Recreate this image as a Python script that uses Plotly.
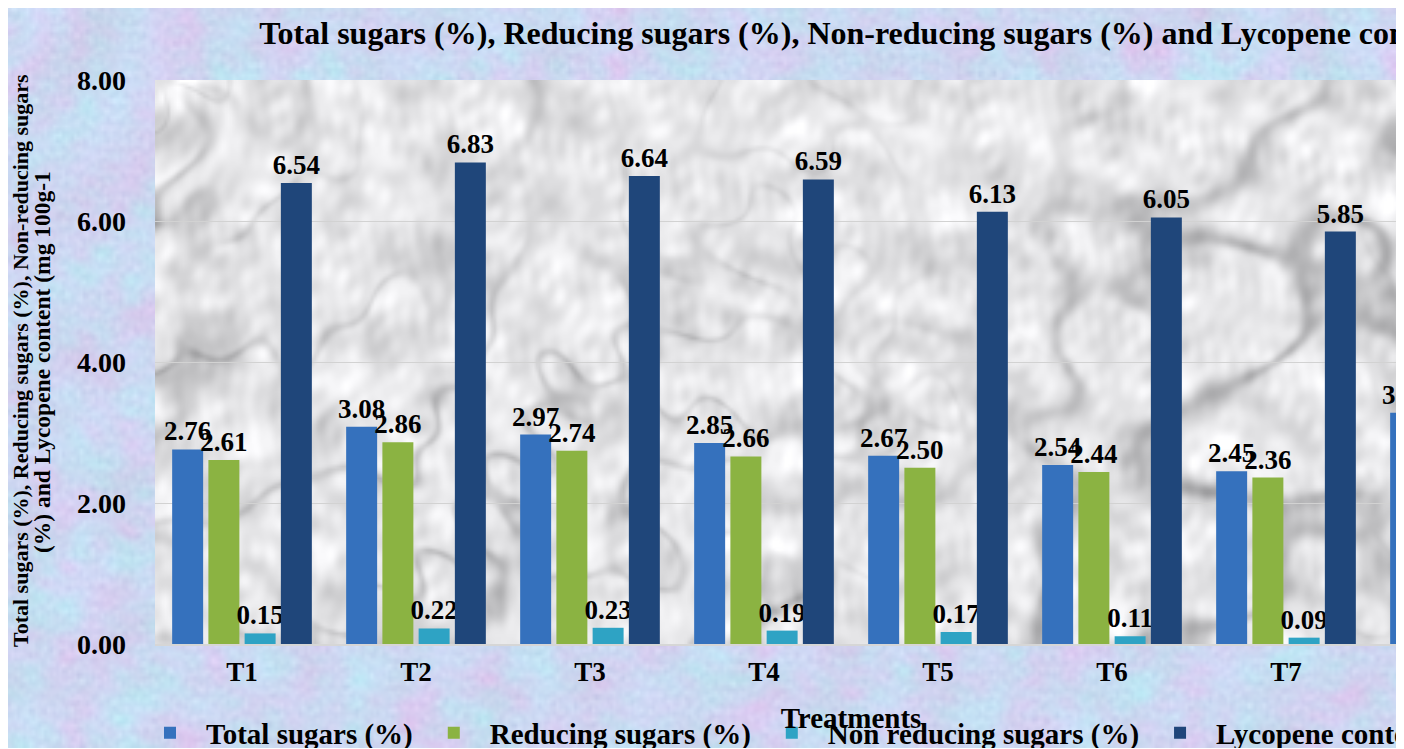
import base64
import struct
import zlib

import numpy as np
import plotly.graph_objects as go

# ---- data ----
treatments = ["T1", "T2", "T3", "T4", "T5", "T6", "T7", "T8"]
total_sugars = [2.76, 3.08, 2.97, 2.85, 2.67, 2.54, 2.45, 3.28]
reducing_sugars = [2.61, 2.86, 2.74, 2.66, 2.50, 2.44, 2.36, 3.02]   # T8 estimated (off-canvas)
non_reducing_sugars = [0.15, 0.22, 0.23, 0.19, 0.17, 0.11, 0.09, 0.26]  # T8 estimated (off-canvas)
lycopene = [6.54, 6.83, 6.64, 6.59, 6.13, 6.05, 5.85, 7.05]          # T8 estimated (off-canvas)

series_names = ["Total sugars (%)", "Reducing sugars (%)",
                "Non reducing sugars (%)", "Lycopene content (mg 100g-1)"]
series_values = [total_sugars, reducing_sugars, non_reducing_sugars, lycopene]
series_colors = ["#3571bd", "#8bb342", "#2ea3c4", "#1f467a"]

y_ticks = [0, 2, 4, 6, 8]

FONT = "Liberation Serif, Times New Roman, serif"

W, H = 1599, 740
L, T, B = 147, 72, 104
PW = 174 * len(treatments)
PH = H - T - B
R = W - L - PW


# ---- decorative background textures (style only, deterministic) ----
def png_uri(rgb):
    h, w, _ = rgb.shape
    raw = b"".join(b"\x00" + rgb[i].tobytes() for i in range(h))

    def chunk(tag, data):
        c = struct.pack(">I", len(data)) + tag + data
        return c + struct.pack(">I", zlib.crc32(tag + data) & 0xFFFFFFFF)

    png = (b"\x89PNG\r\n\x1a\n"
           + chunk(b"IHDR", struct.pack(">IIBBBBB", w, h, 8, 2, 0, 0, 0))
           + chunk(b"IDAT", zlib.compress(raw, 9))
           + chunk(b"IEND", b""))
    return "data:image/png;base64," + base64.b64encode(png).decode()


def waves(X, Y, n, fmin, fmax, off):
    out = np.zeros_like(X)
    for k in range(n):
        t = (k + off) * 2.399963
        f = fmin * (fmax / fmin) ** (((k + 1) * 0.618034 + off * 0.137) % 1.0)
        ph = (k * 1.31 + off) * 3.7
        out += np.sin(f * (X * np.cos(t) + Y * np.sin(t)) + ph) / np.sqrt(f)
    out -= out.mean()
    return out / out.std()


# paper: soft pastel mottled texture
ps = 3
py_, px_ = np.mgrid[0:H // ps + 1, 0:W // ps + 1].astype(float) * ps
a = waves(px_, py_, 36, 0.04, 0.35, 1)
b = waves(px_, py_, 36, 0.04, 0.35, 7)
g = waves(px_, py_, 30, 0.4, 1.0, 13)
paper_rgb = np.stack([
    205 + 5 * a - 2 * b + 3 * g,
    216 - 3 * a + 4 * b + 3 * g,
    242 + 1 * a + 2 * b + 2 * g,
], axis=-1)
paper_img = png_uri(np.clip(paper_rgb, 0, 255).astype(np.uint8))

# plot area: soft grey marble texture
ms = 3
my_, mx_ = np.mgrid[0:PH // ms + 1, 0:PW // ms + 1].astype(float) * ms
n1 = waves(mx_, my_, 40, 0.012, 0.08, 3)
n2 = waves(mx_, my_, 40, 0.02, 0.12, 9)
mod1 = waves(mx_, my_, 20, 0.004, 0.02, 5)
mod2 = waves(mx_, my_, 20, 0.004, 0.02, 21)
cloud = waves(mx_, my_, 40, 0.05, 0.45, 17)
vein1 = np.exp(-(n1 / 0.32) ** 2) * np.clip(0.55 + 0.35 * mod1, 0, 1)
vein2 = np.exp(-(n2 / 0.26) ** 2) * np.clip(0.40 + 0.30 * mod2, 0, 1)
grey = 242 - 50 * vein1 - 36 * vein2 - 9 * cloud
grey += 224 - grey.mean()
marble_rgb = np.stack([grey, grey, grey + 2], axis=-1)
marble_img = png_uri(np.clip(marble_rgb, 0, 255).astype(np.uint8))

fig = go.Figure()
for name, vals, col in zip(series_names, series_values, series_colors):
    fig.add_trace(go.Bar(
        x=treatments, y=vals, name=name,
        marker=dict(color=col, line=dict(width=0)),
        texttemplate="%{y:.2f}", textposition="outside",
        textfont=dict(family=FONT, size=27, color="black", weight="bold"),
        constraintext="none", cliponaxis=False,
    ))

fig.update_layout(
    width=W, height=H,
    margin=dict(l=L, r=R, t=T, b=B, autoexpand=False),
    paper_bgcolor="#cdd8f2",
    plot_bgcolor="rgba(0,0,0,0)",
    images=[
        dict(source=paper_img, xref="paper", yref="paper",
             x=-L / PW, y=1 + T / PH, sizex=W / PW, sizey=H / PH,
             xanchor="left", yanchor="top", sizing="stretch", layer="below"),
        dict(source=marble_img, xref="paper", yref="paper",
             x=0, y=1, sizex=1, sizey=1,
             xanchor="left", yanchor="top", sizing="stretch", layer="below"),
    ],
    barmode="group", bargap=0.167, bargroupgap=0.145,
    font=dict(family=FONT, color="black", weight="bold"),
    title=dict(
        text="Total sugars (%), Reducing sugars (%), Non-reducing sugars (%) and Lycopene content (mg 100g-1)",
        font=dict(family=FONT, size=32, color="black", weight="bold"),
        x=937 / W, xref="container", xanchor="center",
        y=1 - 25 / H, yref="container", yanchor="middle",
    ),
    legend=dict(
        orientation="h", x=(126 - L) / PW, xanchor="left",
        y=-(725 - (T + PH)) / PH, yanchor="middle",
        font=dict(family=FONT, size=29, color="black", weight="bold"),
        bgcolor="rgba(0,0,0,0)", itemwidth=62,
    ),
    xaxis=dict(
        title=dict(text="Treatments", font=dict(family=FONT, size=29, weight="bold"), standoff=21),
        tickfont=dict(family=FONT, size=27, weight="bold"),
        showline=True, linecolor="#d6d6d6", linewidth=2,
        showgrid=False, ticklabelstandoff=3,
    ),
    yaxis=dict(
        range=[0, 8], tickvals=y_ticks, tickformat=".2f",
        tickfont=dict(family=FONT, size=28, weight="bold"),
        showgrid=True, gridcolor="#d2d2d2", gridwidth=1,
        zeroline=False, showline=False, ticklabelstandoff=28,
    ),
    annotations=[
        dict(
            text="Total sugars (%), Reducing sugars (%), Non-reducing sugars",
            xref="paper", yref="paper", x=(12 - L) / PW, y=(T + PH - 353) / PH,
            xanchor="center", yanchor="middle", textangle=-90, showarrow=False,
            font=dict(family=FONT, size=22, color="black", weight="bold"),
        ),
        dict(
            text="(%) and Lycopene content (mg 100g-1",
            xref="paper", yref="paper", x=(34 - L) / PW, y=(T + PH - 354) / PH,
            xanchor="center", yanchor="middle", textangle=-90, showarrow=False,
            font=dict(family=FONT, size=23.5, color="black", weight="bold"),
        ),
    ],
)

fig.write_html("out.html")
